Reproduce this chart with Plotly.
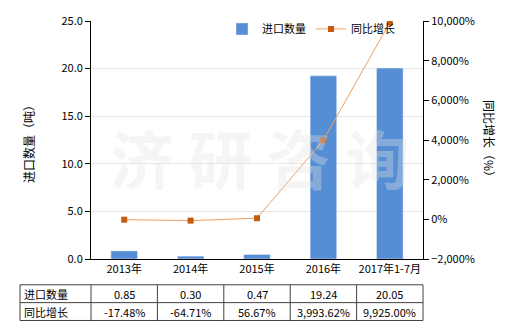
import plotly.graph_objects as go

categories = ["2013年", "2014年", "2015年", "2016年", "2017年1-7月"]
import_qty = [0.85, 0.30, 0.47, 19.24, 20.05]
yoy_growth = [-17.48, -64.71, 56.67, 3993.62, 9925.00]
qty_labels = ["0.85", "0.30", "0.47", "19.24", "20.05"]
yoy_labels = ["-17.48%", "-64.71%", "56.67%", "3,993.62%", "9,925.00%"]
row_names = ["进口数量", "同比增长"]

FONT = "Noto Sans CJK SC"
W, H = 520, 330
L, R, T, B = 91, 423, 19, 259

def px(x):
    return (x - L) / (R - L)

def py(y):
    return (B - y) / (B - T)

fig = go.Figure()
fig.add_trace(go.Bar(x=categories, y=import_qty, name="进口数量",
                     marker=dict(color="#558ed5"), width=0.4, yaxis="y"))
fig.add_trace(go.Scatter(x=categories, y=yoy_growth, name="同比增长", yaxis="y2",
                         mode="lines+markers",
                         line=dict(color="#f0a060", width=1),
                         marker=dict(symbol="square", size=6, color="#c55a11")))

shapes = []
annotations = []

# table
tx0 = px(20)
col_edges = [px(L + i * (R - L) / 5) for i in range(6)]
row_y = [py(285), py(303), py(321)]
lc = "#404040"
for yv in row_y:
    shapes.append(dict(type="line", xref="paper", yref="paper", x0=tx0, x1=col_edges[-1], y0=yv, y1=yv,
                       line=dict(color=lc, width=1)))
for xv in [tx0] + col_edges:
    shapes.append(dict(type="line", xref="paper", yref="paper", x0=xv, x1=xv, y0=row_y[0], y1=row_y[2],
                       line=dict(color=lc, width=1)))
rows = [qty_labels, yoy_labels]
for r in range(2):
    yc = (row_y[r] + row_y[r + 1]) / 2
    annotations.append(dict(xref="paper", yref="paper", x=px(22), y=yc, text=row_names[r],
                            showarrow=False, xanchor="left", yanchor="middle",
                            font=dict(family=FONT, size=11, color="#000")))
    for c in range(5):
        annotations.append(dict(xref="paper", yref="paper", x=(col_edges[c] + col_edges[c + 1]) / 2, y=yc,
                                text=rows[r][c], showarrow=False, xanchor="center", yanchor="middle",
                                font=dict(family=FONT, size=11, color="#000")))

# axis titles
annotations.append(dict(xref="paper", yref="paper", x=px(29), y=py(140), text="进口数量（吨）",
                        textangle=-90, showarrow=False, xanchor="center",
                        font=dict(family=FONT, size=12, color="#000")))
annotations.append(dict(xref="paper", yref="paper", x=px(489), y=py(140), text="同比增长（%）",
                        textangle=90, showarrow=False, xanchor="center",
                        font=dict(family=FONT, size=12, color="#000")))

# watermark
annotations.append(dict(xref="paper", yref="paper", x=px(260), y=py(155), text="<b>济 研 咨 询</b>",
                        showarrow=False, font=dict(family=FONT, size=64, color="rgba(225,225,225,0.35)")))

fig.update_layout(
    width=W, height=H,
    margin=dict(l=L, r=W - R, t=T, b=H - B),
    paper_bgcolor="white", plot_bgcolor="white",
    font=dict(family=FONT, size=11, color="#000"),
    bargap=0.6,
    showlegend=True,
    legend=dict(orientation="h", x=px(222), y=py(27), xanchor="left", yanchor="middle",
                font=dict(family=FONT, size=11), bgcolor="rgba(0,0,0,0)"),
    xaxis=dict(showline=True, linecolor="#000", linewidth=1, ticks="", showgrid=False,
               tickfont=dict(family=FONT, size=11)),
    yaxis=dict(range=[0, 25], dtick=5, tickformat=".1f", showline=True, linecolor="#000",
               ticks="outside", ticklen=5, tickcolor="#000", gridcolor="#e6e6e6", zeroline=False),
    yaxis2=dict(range=[-2000, 10000], dtick=2000, tickformat=",d", ticksuffix="%", overlaying="y",
                side="right", showline=True, linecolor="#000", ticks="outside", ticklen=5,
                tickcolor="#000", showgrid=False, zeroline=False),
    shapes=shapes, annotations=annotations,
)

fig.write_html("out.html")
